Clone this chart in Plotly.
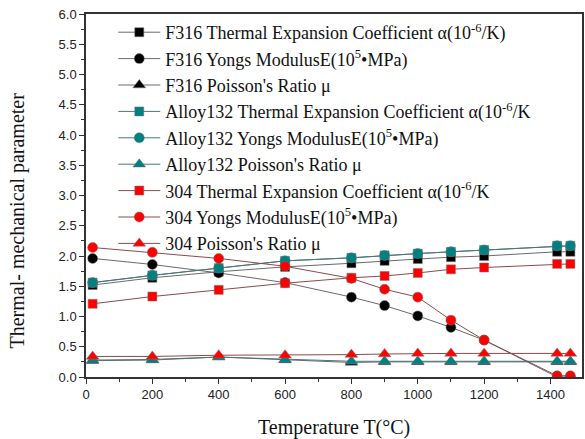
import plotly.graph_objects as go

temps = [20, 200, 400, 600, 800, 900, 1000, 1100, 1200, 1420, 1460]

f316_alpha = [1.52, 1.64, 1.74, 1.82, 1.88, 1.92, 1.95, 1.98, 2.00, 2.07, 2.07]
f316_E = [1.96, 1.86, 1.72, 1.56, 1.32, 1.18, 1.01, 0.82, 0.61, 0.0, 0.0]
f316_mu = [0.27, 0.28, 0.33, 0.28, 0.24, 0.25, 0.25, 0.25, 0.25, 0.25, 0.25]

a132_alpha = [1.56, 1.68, 1.80, 1.92, 1.97, 2.01, 2.04, 2.07, 2.10, 2.17, 2.17]
a132_E = a132_alpha
a132_mu = [0.28, 0.29, 0.33, 0.29, 0.26, 0.26, 0.26, 0.26, 0.26, 0.26, 0.26]

s304_alpha = [1.21, 1.33, 1.44, 1.55, 1.64, 1.67, 1.72, 1.78, 1.81, 1.87, 1.87]
s304_E = [2.14, 2.06, 1.96, 1.83, 1.63, 1.45, 1.32, 0.94, 0.61, 0.02, 0.02]
s304_mu = [0.34, 0.34, 0.36, 0.36, 0.37, 0.38, 0.39, 0.39, 0.39, 0.39, 0.39]

names = [
    "F316 Thermal Expansion Coefficient α(10<sup>-6</sup>/K)",
    "F316 Yongs ModulusE(10<sup>5</sup>•MPa)",
    "F316 Poisson's Ratio μ",
    "Alloy132 Thermal Expansion Coefficient α(10<sup>-6</sup>/K",
    "Alloy132 Yongs ModulusE(10<sup>5</sup>•MPa)",
    "Alloy132 Poisson's Ratio μ",
    "304 Thermal Expansion Coefficient α(10<sup>-6</sup>/K",
    "304 Yongs ModulusE(10<sup>5</sup>•MPa)",
    "304 Poisson's Ratio μ",
]

series = [f316_alpha, f316_E, f316_mu, a132_alpha, a132_E, a132_mu, s304_alpha, s304_E, s304_mu]
symbols = ["square", "circle", "triangle-up"] * 3
marker_colors = ["#000000"] * 3 + ["#008080"] * 3 + ["#ff0000"] * 3
line_colors = ["#6a6a6a"] * 3 + ["#4d7676"] * 3 + ["#8c4a4a"] * 3
sizes = [9, 10, 11] * 3

fig = go.Figure()
for name, ys, sym, mc, lc, sz in zip(names, series, symbols, marker_colors, line_colors, sizes):
    fig.add_trace(go.Scatter(
        x=temps, y=ys, name=name, mode="lines+markers",
        line=dict(color=lc, width=1),
        marker=dict(symbol=sym, size=sz, color=mc, line=dict(color="#777777", width=0.5)),
    ))

axis_common = dict(
    showline=True, linecolor="#333333", linewidth=1.5, mirror=True,
    ticks="outside", ticklen=5, tickwidth=1.2, tickcolor="#333333",
    showgrid=False, zeroline=False,
    tickfont=dict(family="Liberation Sans, Arial", size=13, color="#222222"),
)

fig.update_layout(
    width=585, height=439,
    margin=dict(l=86, r=1, t=14, b=62),
    paper_bgcolor="white", plot_bgcolor="white",
    showlegend=True,
    legend=dict(
        x=0.055, y=1.0, xanchor="left", yanchor="top",
        bgcolor="rgba(0,0,0,0)", borderwidth=0, itemwidth=42,
        font=dict(family="Liberation Serif, Times New Roman", size=18, color="#111111"),
        tracegroupgap=0,
    ),
    xaxis=dict(range=[0, 1495], tickvals=[0, 200, 400, 600, 800, 1000, 1200, 1400],
               minor=dict(ticks="outside", ticklen=3, dtick=100, tick0=0, tickcolor="#333333"),
               **axis_common),
    yaxis=dict(range=[0, 6.0], dtick=0.5, tickformat=".1f",
               minor=dict(ticks="outside", ticklen=3, dtick=0.25, tick0=0, tickcolor="#333333"),
               **axis_common),
    annotations=[
        dict(text="Thermal- mechanical parameter", xref="paper", yref="paper",
             x=-0.1386, y=0.4318, textangle=-90, showarrow=False,
             xanchor="center", yanchor="middle",
             font=dict(family="Liberation Serif, Times New Roman", size=20, color="#111111")),
        dict(text="Temperature T(°C)", xref="paper", yref="paper",
             x=0.5, y=-0.1403, showarrow=False, xanchor="center", yanchor="middle",
             font=dict(family="Liberation Serif, Times New Roman", size=20, color="#111111")),
    ],
)

fig.write_html("out.html", config={"displayModeBar": False},
               post_script="document.body.style.margin='0';document.body.style.padding='0';")
